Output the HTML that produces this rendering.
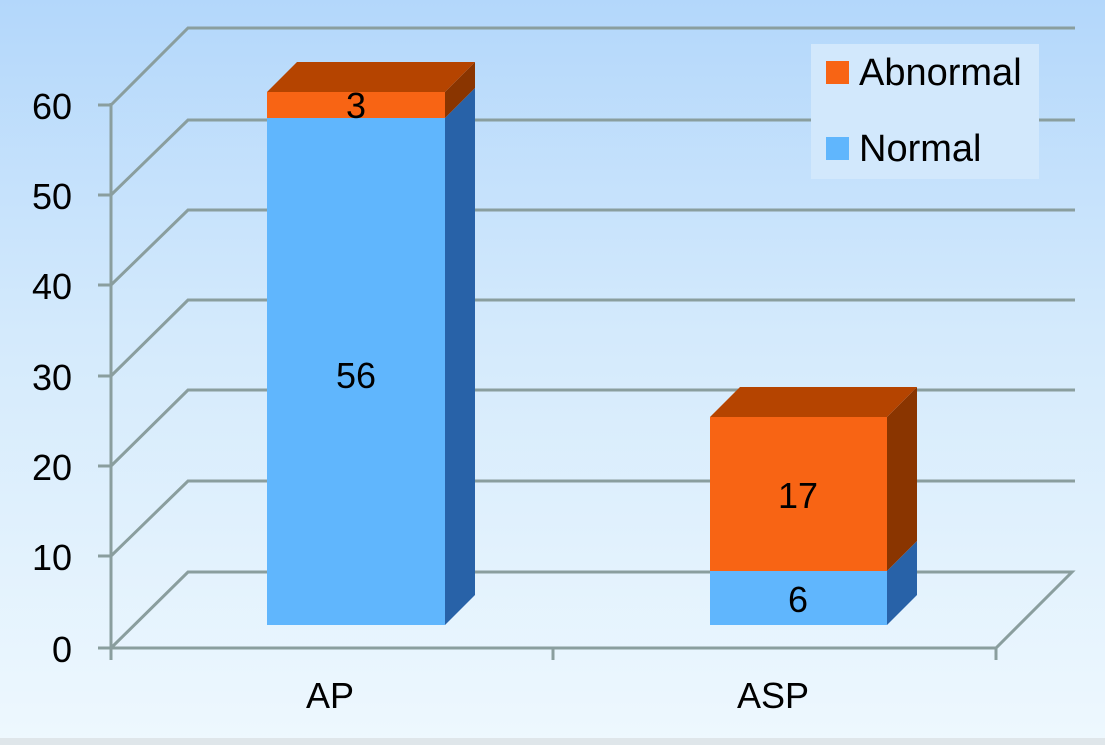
<!DOCTYPE html>
<html><head><style>
html,body{margin:0;padding:0}
body{width:1105px;height:745px;overflow:hidden;background:linear-gradient(#b3d7fb 0%,#d4eafc 45%,#eef8fe 100%);font-family:"Liberation Sans",sans-serif}
</style></head><body>
<svg width="1105" height="745" xmlns="http://www.w3.org/2000/svg" style="position:absolute;left:0;top:0">
<rect x="0" y="738" width="1105" height="7" fill="#dfe6ea"/>
<g stroke="#8a9e9e" stroke-width="3" fill="none">
<polyline points="111,105 188,28 1075,28"/>
<polyline points="111,195 188,120 1075,120"/>
<polyline points="111,285 188,210 1075,210"/>
<polyline points="111,376 188,300 1075,300"/>
<polyline points="111,466 188,390 1075,390"/>
<polyline points="111,556 188,481 1075,481"/>
<polyline points="111,648 188,572 1072,572 996,648 111,648"/>
<line x1="111" y1="103" x2="111" y2="660"/>
<line x1="98" y1="105" x2="111" y2="105"/><line x1="98" y1="195" x2="111" y2="195"/>
<line x1="98" y1="285" x2="111" y2="285"/><line x1="98" y1="376" x2="111" y2="376"/>
<line x1="98" y1="466" x2="111" y2="466"/><line x1="98" y1="556" x2="111" y2="556"/>
<line x1="98" y1="648" x2="111" y2="648"/>
<line x1="553" y1="648" x2="553" y2="660"/><line x1="996" y1="648" x2="996" y2="660"/>
</g>
<polygon points="445,625 475,595 475,88 445,118" fill="#2862a8"/>
<polygon points="445,118 475,88 475,62 445,92" fill="#8a3500"/>
<rect x="267" y="118" width="178" height="507" fill="#60b6fd"/>
<rect x="267" y="92" width="178" height="26" fill="#f86414"/>
<polygon points="267,92 297,62 475,62 445,92" fill="#b54400"/>
<polygon points="887,625 917,595 917,541 887,571" fill="#2862a8"/>
<polygon points="887,571 917,541 917,387 887,417" fill="#8a3500"/>
<rect x="710" y="571" width="177" height="54" fill="#60b6fd"/>
<rect x="710" y="417" width="177" height="154" fill="#f86414"/>
<polygon points="710,417 740,387 917,387 887,417" fill="#b54400"/>
<g font-size="36" fill="#000" text-anchor="middle">
<text x="356" y="118">3</text>
<text x="356" y="388">56</text>
<text x="798" y="508">17</text>
<text x="798" y="612">6</text>
<text x="330" y="708">AP</text>
<text x="773" y="708">ASP</text>
</g>
<g font-size="36" fill="#000" text-anchor="end">
<text x="72" y="119">60</text><text x="72" y="209">50</text><text x="72" y="299">40</text>
<text x="72" y="390">30</text><text x="72" y="480">20</text><text x="72" y="570">10</text>
<text x="72" y="662">0</text>
</g>
<rect x="811" y="44" width="228" height="135" fill="#d2e8fc"/>
<rect x="826" y="61" width="23" height="23" fill="#f86414"/>
<rect x="826" y="137" width="23" height="23" fill="#60b6fd"/>
<text x="859" y="85" font-size="38">Abnormal</text>
<text x="859" y="161" font-size="38">Normal</text>
</svg>
</body></html>
